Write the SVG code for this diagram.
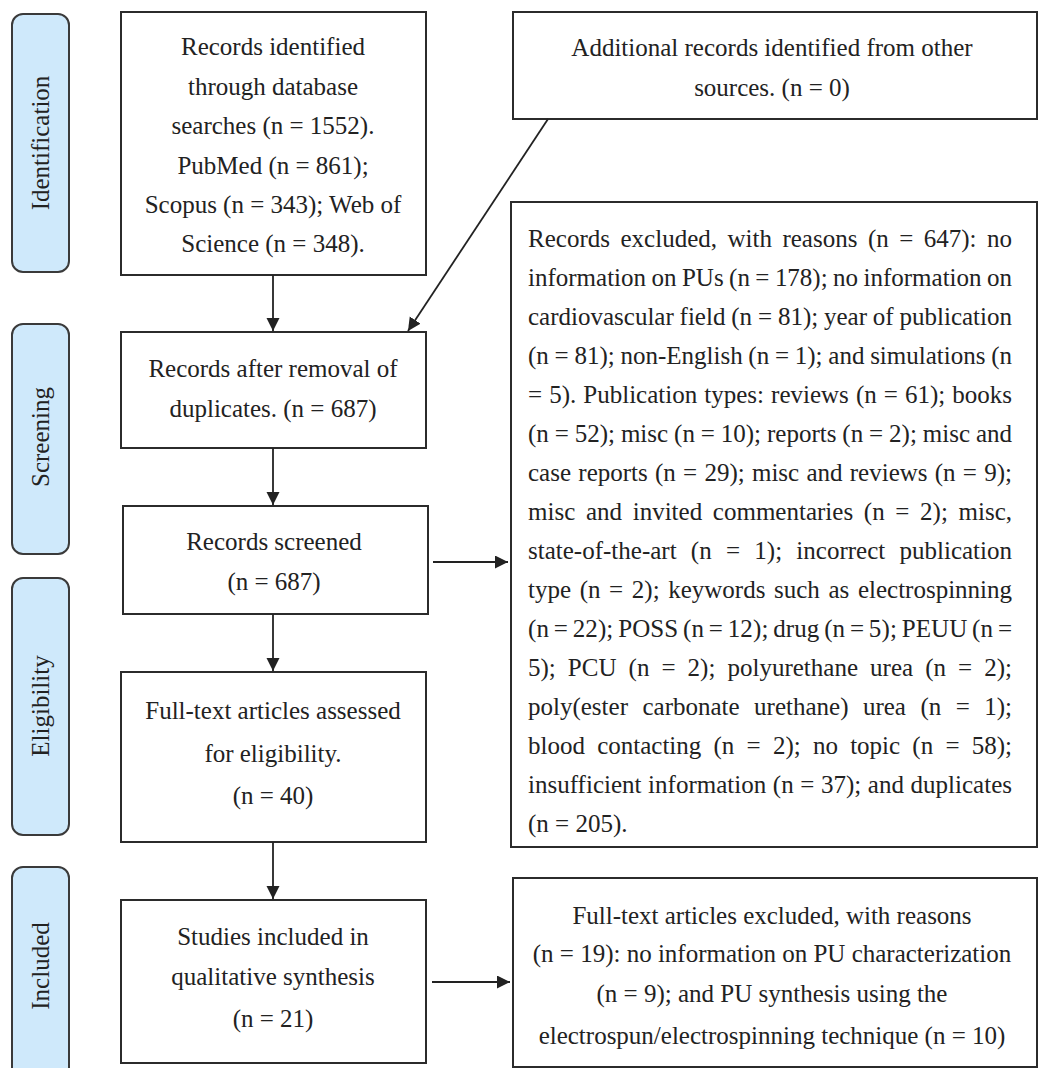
<svg xmlns="http://www.w3.org/2000/svg" width="1039" height="1068" viewBox="0 0 1039 1068">
<style>
.bg{fill:#ffffff}
.box{fill:#ffffff;stroke:#2b2b2b;stroke-width:2}
.phase{fill:#cfe9fb;stroke:#3a3a3a;stroke-width:2}
.t{font-family:"Liberation Serif","Times New Roman",serif;font-size:25px;fill:#222222}
.c{text-anchor:middle}
.edge{stroke:#222222;stroke-width:1.8;fill:none}
</style>
<defs>
<marker id="ah" markerUnits="userSpaceOnUse" markerWidth="14" markerHeight="14" refX="13" refY="6.5" orient="auto">
<path d="M0,0 L13,6.5 L0,13 z" fill="#222222"/>
</marker>
</defs>
<rect class="bg" x="0" y="0" width="1039" height="1068"/>

<g id="phase-identification">
<rect class="phase" x="12" y="14" width="57" height="258" rx="11"/>
<text class="t c" transform="translate(49,143) rotate(-90)">Identification</text>
</g>
<g id="phase-screening">
<rect class="phase" x="12" y="324" width="57" height="230" rx="11"/>
<text class="t c" transform="translate(49,437) rotate(-90)">Screening</text>
</g>
<g id="phase-eligibility">
<rect class="phase" x="12" y="578" width="57" height="257" rx="11"/>
<text class="t c" transform="translate(49,706) rotate(-90)">Eligibility</text>
</g>
<g id="phase-included">
<rect class="phase" x="12" y="867" width="57" height="230" rx="11"/>
<text class="t c" transform="translate(49,966) rotate(-90)">Included</text>
</g>

<g id="node-identified">
<rect class="box" x="121" y="12" width="305" height="263"/>
<text class="t c" x="273" y="55">Records identified</text>
<text class="t c" x="273" y="95">through database</text>
<text class="t c" x="273" y="134">searches (n = 1552).</text>
<text class="t c" x="273" y="174">PubMed (n = 861);</text>
<text class="t c" x="273" y="213">Scopus (n = 343); Web of</text>
<text class="t c" x="273" y="252">Science (n = 348).</text>
</g>

<g id="node-additional">
<rect class="box" x="513" y="12" width="524" height="107"/>
<text class="t c" x="772" y="56">Additional records identified from other</text>
<text class="t c" x="772" y="96">sources. (n = 0)</text>
</g>

<g id="node-dedup">
<rect class="box" x="121" y="332" width="305" height="116"/>
<text class="t c" x="273" y="377">Records after removal of</text>
<text class="t c" x="273" y="417">duplicates. (n = 687)</text>
</g>

<g id="node-screened">
<rect class="box" x="123" y="506" width="305" height="108"/>
<text class="t c" x="274" y="550">Records screened</text>
<text class="t c" x="274" y="590">(n = 687)</text>
</g>

<g id="node-excluded">
<rect class="box" x="511" y="202" width="526" height="645"/>
<text class="t" x="528" y="247" textLength="484" lengthAdjust="spacing" word-spacing="4.2">Records excluded, with reasons (n = 647): no</text>
<text class="t" x="528" y="286" textLength="484" lengthAdjust="spacing" word-spacing="-0.8">information on PUs (n = 178); no information on</text>
<text class="t" x="528" y="325" textLength="484" lengthAdjust="spacing" word-spacing="-0.4">cardiovascular field (n = 81); year of publication</text>
<text class="t" x="528" y="364" textLength="484" lengthAdjust="spacing" word-spacing="-0.5">(n = 81); non-English (n = 1); and simulations (n</text>
<text class="t" x="528" y="403" textLength="484" lengthAdjust="spacing" word-spacing="0.8">= 5). Publication types: reviews (n = 61); books</text>
<text class="t" x="528" y="442" textLength="484" lengthAdjust="spacing" word-spacing="-0.36">(n = 52); misc (n = 10); reports (n = 2); misc and</text>
<text class="t" x="528" y="481" textLength="484" lengthAdjust="spacing" word-spacing="1.0">case reports (n = 29); misc and reviews (n = 9);</text>
<text class="t" x="528" y="520" textLength="484" lengthAdjust="spacing" word-spacing="4.4">misc and invited commentaries (n = 2); misc,</text>
<text class="t" x="528" y="559" textLength="484" lengthAdjust="spacing" word-spacing="8">state-of-the-art (n = 1); incorrect publication</text>
<text class="t" x="528" y="598" textLength="484" lengthAdjust="spacing" word-spacing="2.36">type (n = 2); keywords such as electrospinning</text>
<text class="t" x="528" y="637" textLength="484" lengthAdjust="spacing" word-spacing="-1.6">(n = 22); POSS (n = 12); drug (n = 5); PEUU (n =</text>
<text class="t" x="528" y="676" textLength="484" lengthAdjust="spacing" word-spacing="5.8">5); PCU (n = 2); polyurethane urea (n = 2);</text>
<text class="t" x="528" y="715" textLength="484" lengthAdjust="spacing" word-spacing="8.2">poly(ester carbonate urethane) urea (n = 1);</text>
<text class="t" x="528" y="754" textLength="484" lengthAdjust="spacing" word-spacing="6">blood contacting (n = 2); no topic (n = 58);</text>
<text class="t" x="528" y="793" textLength="484" lengthAdjust="spacing" word-spacing="0.3">insufficient information (n = 37); and duplicates</text>
<text class="t" x="528" y="832">(n = 205).</text>
</g>

<g id="node-fulltext">
<rect class="box" x="121" y="672" width="305" height="170"/>
<text class="t c" x="273" y="719">Full-text articles assessed</text>
<text class="t c" x="273" y="762">for eligibility.</text>
<text class="t c" x="273" y="804">(n = 40)</text>
</g>

<g id="node-included">
<rect class="box" x="121" y="900" width="305" height="163"/>
<text class="t c" x="273" y="945">Studies included in</text>
<text class="t c" x="273" y="985">qualitative synthesis</text>
<text class="t c" x="273" y="1027">(n = 21)</text>
</g>

<g id="node-fulltext-excluded">
<rect class="box" x="513" y="878" width="524" height="189"/>
<text class="t c" x="772" y="924">Full-text articles excluded, with reasons</text>
<text class="t c" x="772" y="962">(n = 19): no information on PU characterization</text>
<text class="t c" x="772" y="1002">(n = 9); and PU synthesis using the</text>
<text class="t c" x="772" y="1044">electrospun/electrospinning technique (n = 10)</text>
</g>

<g id="connectors">
<line class="edge" x1="273" y1="275" x2="273" y2="331" marker-end="url(#ah)"/>
<line class="edge" x1="548" y1="119" x2="408" y2="331" marker-end="url(#ah)"/>
<line class="edge" x1="273" y1="448" x2="273" y2="505" marker-end="url(#ah)"/>
<line class="edge" x1="433" y1="562" x2="508" y2="562" marker-end="url(#ah)"/>
<line class="edge" x1="273" y1="614" x2="273" y2="671" marker-end="url(#ah)"/>
<line class="edge" x1="273" y1="842" x2="273" y2="899" marker-end="url(#ah)"/>
<line class="edge" x1="432" y1="982" x2="510" y2="982" marker-end="url(#ah)"/>
</g>
</svg>
